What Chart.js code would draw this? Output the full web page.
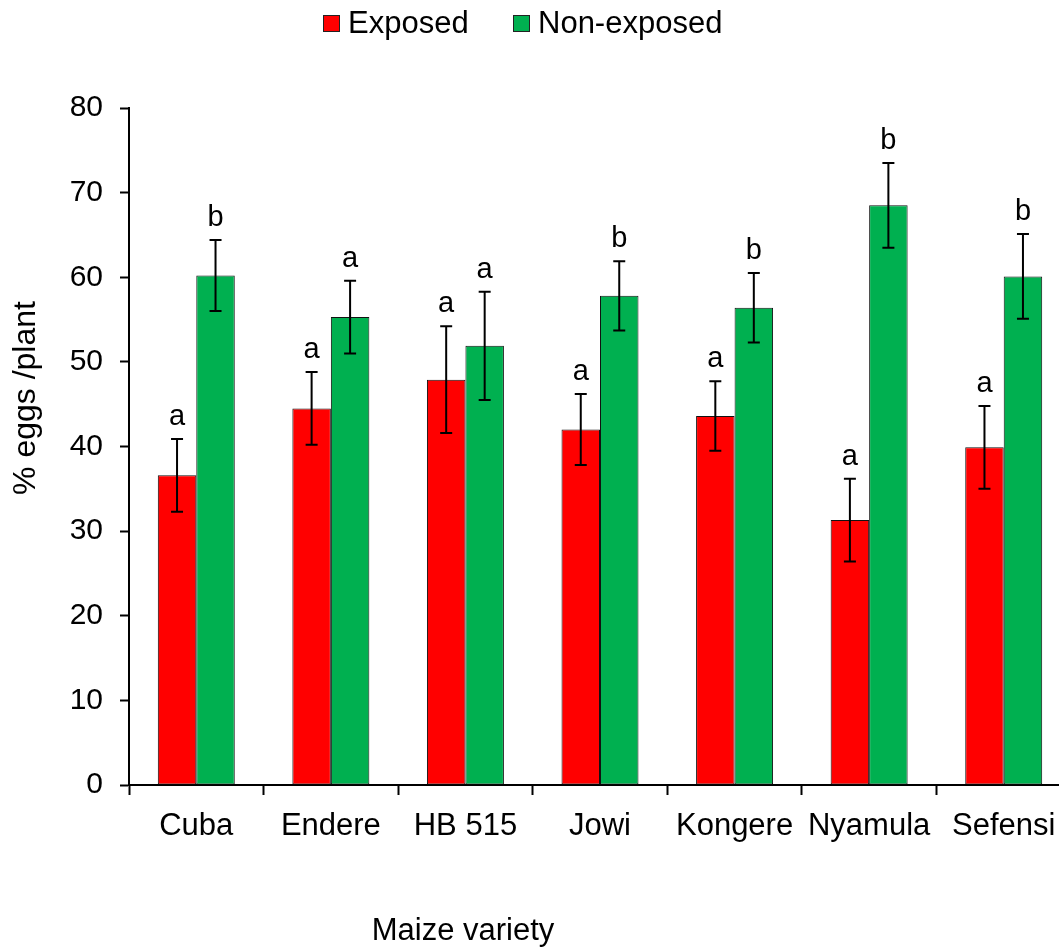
<!DOCTYPE html>
<html>
<head>
<meta charset="utf-8">
<script src="https://cdn.jsdelivr.net/npm/chart.js@4.4.1/dist/chart.umd.min.js"></script>
<style>
  html, body { margin: 0; padding: 0; background: #ffffff; overflow: hidden; }
  #wrap { width: 1059px; height: 947px; }
</style>
</head>
<body>
<div id="wrap"><canvas id="c" width="1059" height="947"></canvas></div>
<script>
const categories = ['Cuba', 'Endere', 'HB 515', 'Jowi', 'Kongere', 'Nyamula', 'Sefensi'];
const exposed = [36.6, 44.5, 47.9, 42.0, 43.6, 31.3, 39.9];
const exposedErr = [4.3, 4.3, 6.3, 4.2, 4.1, 4.9, 4.9];
const exposedLetters = ['a', 'a', 'a', 'a', 'a', 'a', 'a'];
const nonExposed = [60.2, 55.3, 51.9, 57.8, 56.4, 68.5, 60.1];
const nonExposedErr = [4.2, 4.3, 6.4, 4.1, 4.1, 5.0, 5.0];
const nonExposedLetters = ['b', 'a', 'a', 'b', 'b', 'b', 'b'];
const seriesNames = ['Exposed', 'Non-exposed'];
const yTicks = [0, 10, 20, 30, 40, 50, 60, 70, 80];
const xTitle = 'Maize variety';
const yTitle = '% eggs /plant';

const FONT = "'Liberation Sans', Arial, sans-serif";
const RED = '#ff0000';
const GREEN = '#00b050';
const PLOT_RIGHT = 1071;

const errors = [exposedErr, nonExposedErr];
const letters = [exposedLetters, nonExposedLetters];

const extrasPlugin = {
  id: 'extras',
  afterLayout(chart) {
    // the original plot area runs slightly past the right edge of the picture
    const xs = chart.scales.x;
    chart.chartArea.right = PLOT_RIGHT;
    chart.chartArea.width = PLOT_RIGHT - chart.chartArea.left;
    xs.right = PLOT_RIGHT;
    xs.width = PLOT_RIGHT - xs.left;
    xs.configure();
  },
  afterDatasetsDraw(chart) {
    const ctx = chart.ctx;
    const yScale = chart.scales.y;
    ctx.save();
    chart.data.datasets.forEach((ds, di) => {
      const meta = chart.getDatasetMeta(di);
      meta.data.forEach((bar, i) => {
        const v = ds.data[i];
        const e = errors[di][i];
        const x = bar.x;
        const yTop = yScale.getPixelForValue(v + e);
        const yBot = yScale.getPixelForValue(v - e);
        ctx.strokeStyle = '#000000';
        ctx.lineWidth = 2;
        ctx.beginPath();
        ctx.moveTo(x, yTop); ctx.lineTo(x, yBot);
        ctx.moveTo(x - 6, yTop); ctx.lineTo(x + 6, yTop);
        ctx.moveTo(x - 6, yBot); ctx.lineTo(x + 6, yBot);
        ctx.stroke();
        ctx.fillStyle = '#000000';
        ctx.font = '29px ' + FONT;
        ctx.textAlign = 'center';
        ctx.textBaseline = 'alphabetic';
        ctx.fillText(letters[di][i], x, yTop - 14);
      });
    });
    ctx.restore();
  },
  afterDraw(chart) {
    const ctx = chart.ctx;
    ctx.save();
    ctx.fillStyle = '#000000';
    ctx.textBaseline = 'alphabetic';
    // legend
    ctx.font = '31px ' + FONT;
    ctx.textAlign = 'left';
    const items = [
      { name: seriesNames[0], color: RED, bx: 323, tx: 348 },
      { name: seriesNames[1], color: GREEN, bx: 513, tx: 538 }
    ];
    items.forEach(it => {
      ctx.fillStyle = it.color;
      ctx.fillRect(it.bx, 15, 17, 17);
      ctx.strokeStyle = '#222222';
      ctx.lineWidth = 1;
      ctx.strokeRect(it.bx + 0.5, 15.5, 16, 16);
      ctx.fillStyle = '#000000';
      ctx.fillText(it.name, it.tx, 33);
    });
    // x title
    ctx.font = '31px ' + FONT;
    ctx.textAlign = 'center';
    ctx.fillText(xTitle, 463, 940);
    // y title
    ctx.translate(35, 398);
    ctx.rotate(-Math.PI / 2);
    ctx.font = '32px ' + FONT;
    ctx.textAlign = 'center';
    ctx.fillText(yTitle, 0, 0);
    ctx.restore();
  }
};

new Chart(document.getElementById('c'), {
  type: 'bar',
  data: {
    labels: categories,
    datasets: [
      { label: seriesNames[0], data: exposed, backgroundColor: RED, borderColor: '#111111', borderWidth: 1, borderSkipped: false },
      { label: seriesNames[1], data: nonExposed, backgroundColor: GREEN, borderColor: '#111111', borderWidth: 1, borderSkipped: false }
    ]
  },
  options: {
    responsive: false,
    animation: false,
    devicePixelRatio: 1,
    layout: { padding: { left: 0, right: 0, top: 108, bottom: 0 } },
    datasets: { bar: { categoryPercentage: 0.572, barPercentage: 1.0 } },
    plugins: {
      legend: { display: false },
      tooltip: { enabled: false },
      title: { display: false }
    },
    scales: {
      x: {
        grid: { display: true, drawOnChartArea: false, offset: true, tickLength: 10, tickWidth: 2, tickColor: '#000000', color: '#000000' },
        border: { display: true, color: '#000000', width: 2 },
        ticks: { color: '#000000', font: { family: FONT, size: 31 }, padding: 13, maxRotation: 0, autoSkip: false },
        afterFit(scale) { scale.height = 162; }
      },
      y: {
        min: 0, max: 80,
        afterBuildTicks(scale) { scale.ticks = yTicks.map(v => ({ value: v })); },
        grid: { display: true, drawOnChartArea: false, tickLength: 9, tickWidth: 2, tickColor: '#000000', color: '#000000' },
        border: { display: true, color: '#000000', width: 2 },
        ticks: { color: '#000000', font: { family: FONT, size: 30 }, padding: 17 },
        afterFit(scale) { scale.width = 129; }
      }
    }
  },
  plugins: [extrasPlugin]
});
</script>
</body>
</html>
